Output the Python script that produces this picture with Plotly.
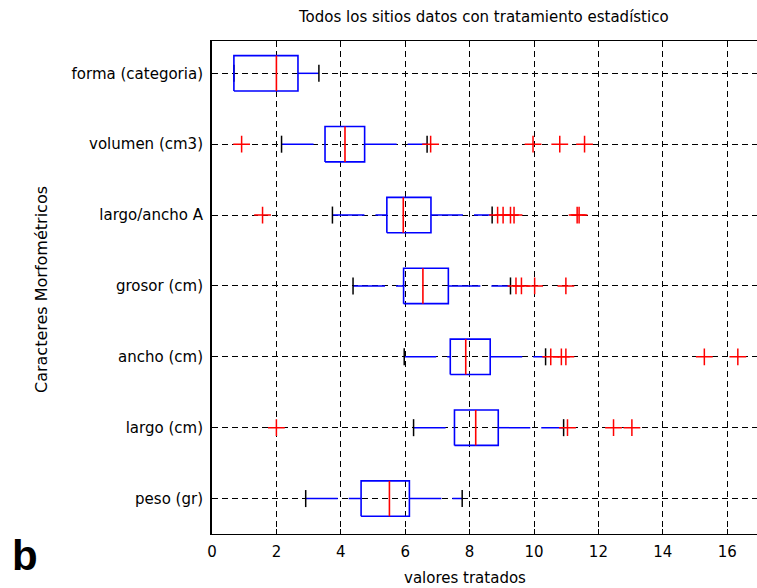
import plotly.graph_objects as go

# ---- data ----
categories = ["peso (gr)", "largo (cm)", "ancho (cm)", "grosor (cm)",
              "largo/ancho A", "volumen (cm3)", "forma (categoria)"]
q1 = [4.63, 7.53, 7.40, 5.95, 5.43, 3.51, 0.68]
median = [5.51, 8.19, 7.88, 6.55, 5.94, 4.13, 2.00]
q3 = [6.13, 8.89, 8.64, 7.34, 6.80, 4.74, 2.67]
lower_whisker = [2.91, 6.26, 5.97, 4.38, 3.74, 2.16, 0.68]
upper_whisker = [7.77, 10.92, 10.36, 9.27, 8.70, 6.68, 3.32]
outliers = [
    [],
    [2.00, 11.04, 12.47, 13.04],
    [10.52, 10.85, 10.99, 15.29, 16.33],
    [9.44, 9.61, 10.02, 10.99],
    [1.57, 8.87, 9.04, 9.27, 9.38, 11.34, 11.40],
    [0.92, 6.79, 9.97, 10.80, 11.57],
    [],
]
x_ticks = [0, 2, 4, 6, 8, 10, 12, 14, 16]

title_text = "Todos los sitios datos con tratamiento estadístico"
x_title = "valores tratados"
y_title = "Caracteres Morfométricos"
panel_label = "b"

# ---- styling ----
W, H = 757, 588
L, R, T, B = 212, 0, 41, 54
PW, PH = W - L - R, H - T - B
BLUE, RED = "#0000FF", "#FF0000"
FONT = "DejaVu Sans"
half_box = 0.25
half_cap = 0.12

fig = go.Figure()
pos = list(range(1, len(categories) + 1))

# whiskers (dashed blue), each its own trace so dash pattern starts at the end
for p, lo, a, b, hi in zip(pos, lower_whisker, q1, q3, upper_whisker):
    for xs in ([lo, a], [b, hi]):
        if xs[0] == xs[1]:
            continue
        fig.add_trace(go.Scatter(x=xs, y=[p, p], mode="lines",
                                 line=dict(color=BLUE, width=1.5, dash="32px,11px"),
                                 hoverinfo="skip", showlegend=False))

# whisker caps (black)
cx, cy = [], []
for p, lo, hi in zip(pos, lower_whisker, upper_whisker):
    for v in (lo, hi):
        cx += [v, v, None]
        cy += [p - half_cap, p + half_cap, None]
fig.add_trace(go.Scatter(x=cx, y=cy, mode="lines",
                         line=dict(color="black", width=1.5),
                         hoverinfo="skip", showlegend=False))

# boxes (blue)
bx, by = [], []
for p, a, b in zip(pos, q1, q3):
    bx += [a, b, b, a, a, None]
    by += [p - half_box, p - half_box, p + half_box, p + half_box, p - half_box, None]
fig.add_trace(go.Scatter(x=bx, y=by, mode="lines",
                         line=dict(color=BLUE, width=1.6),
                         hoverinfo="skip", showlegend=False))

# medians (red)
mx, my = [], []
for p, m in zip(pos, median):
    mx += [m, m, None]
    my += [p - half_box, p + half_box, None]
fig.add_trace(go.Scatter(x=mx, y=my, mode="lines",
                         line=dict(color=RED, width=1.6),
                         hoverinfo="skip", showlegend=False))

# outliers (red +)
ox, oy = [], []
for p, outs in zip(pos, outliers):
    ox += outs
    oy += [p] * len(outs)
fig.add_trace(go.Scatter(x=ox, y=oy, mode="markers",
                         marker=dict(symbol="cross-thin", size=12,
                                     line=dict(color=RED, width=1.5)),
                         hoverinfo="skip", showlegend=False))


def px_x(px):
    return (px - L) / PW


def px_y(py):
    return (H - B - py) / PH


fig.update_layout(
    width=W, height=H,
    margin=dict(l=L, r=R, t=T, b=B),
    paper_bgcolor="white", plot_bgcolor="white",
    font=dict(family=FONT, size=15, color="black"),
    xaxis=dict(range=[0, PW / 32.2], tickvals=x_ticks,
               ticktext=[str(v) for v in x_ticks],
               showgrid=True, gridcolor="black", gridwidth=1, griddash="6px,4px",
               zeroline=False, showline=True, linecolor="black", linewidth=1.3,
               mirror="ticks", ticks="inside", ticklen=5, tickcolor="black",
               ticklabelstandoff=4,
               tickfont=dict(family=FONT, size=15)),
    yaxis=dict(range=[0.5, 7.456], tickvals=pos, ticktext=categories,
               showgrid=True, gridcolor="black", gridwidth=1, griddash="6px,4px",
               zeroline=False, showline=True, linecolor="black", linewidth=2,
               mirror=False, ticks="inside", ticklen=5, tickcolor="black",
               ticklabelstandoff=4,
               tickfont=dict(family=FONT, size=15)),
    annotations=[
        dict(text=title_text, xref="paper", yref="paper",
             x=px_x(483), y=px_y(17), xanchor="center", yanchor="middle",
             showarrow=False, font=dict(family=FONT, size=15)),
        dict(text=x_title, xref="paper", yref="paper",
             x=px_x(465), y=px_y(578), xanchor="center", yanchor="middle",
             showarrow=False, font=dict(family=FONT, size=15)),
        dict(text=y_title, xref="paper", yref="paper", textangle=-90,
             x=px_x(41), y=px_y(290), xanchor="center", yanchor="middle",
             showarrow=False, font=dict(family=FONT, size=16)),
        dict(text="<b>" + panel_label + "</b>", xref="paper", yref="paper",
             x=px_x(10), y=px_y(555), xanchor="left", yanchor="middle",
             showarrow=False, font=dict(family="Liberation Sans", size=42)),
    ],
)

fig.write_html("out.html")
